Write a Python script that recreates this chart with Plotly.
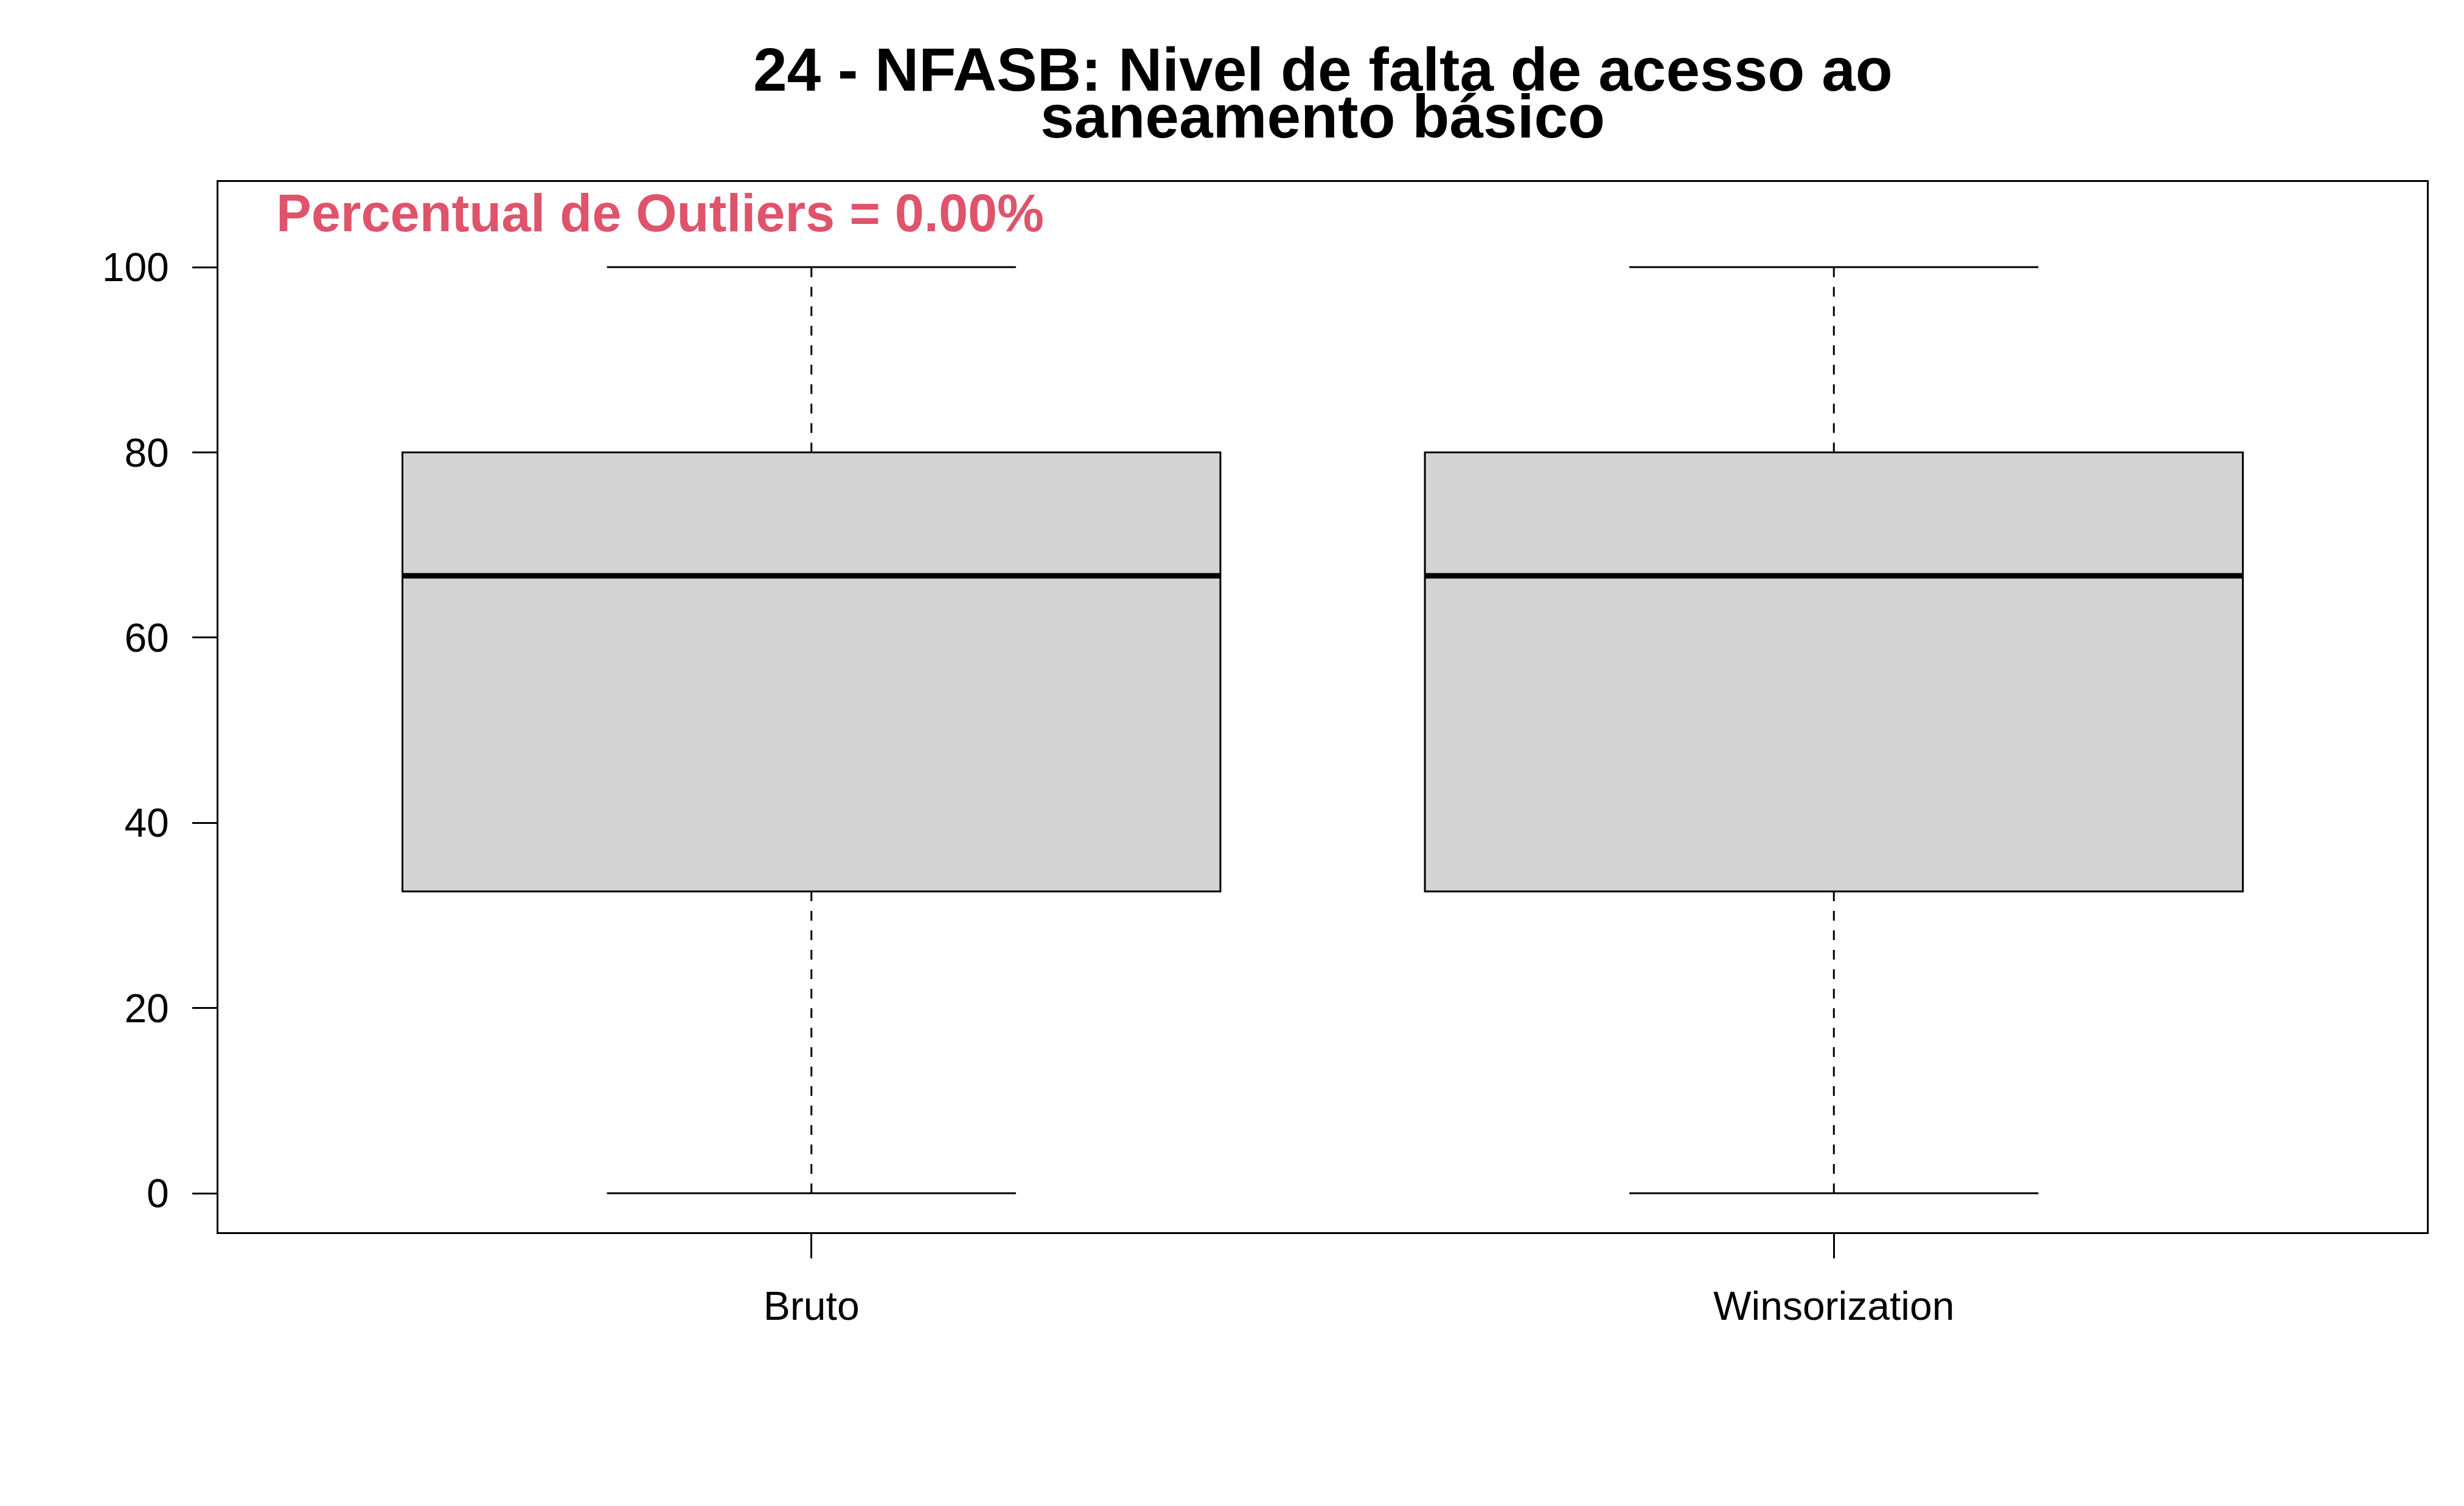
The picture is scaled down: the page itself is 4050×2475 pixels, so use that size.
import plotly.graph_objects as go

categories = ["Bruto", "Winsorization"]
positions = [1, 2]
q1 = [32.6, 32.6]
median = [66.67, 66.67]
q3 = [80.0, 80.0]
lower_whisker = [0.0, 0.0]
upper_whisker = [100.0, 100.0]
y_ticks = [0, 20, 40, 60, 80, 100]
title_lines = ["24 - NFASB: Nivel de falta de acesso ao", "saneamento básico"]
outlier_text = "Percentual de Outliers = 0.00%"

FONT = "Liberation Sans, Arial, sans-serif"
W, H = 4050, 2475
L, R, T, B = 359, 61, 299, 450
box_half = 0.4
staple_half = 0.2

fig = go.Figure()

fig.add_trace(go.Box(
    x=positions, q1=q1, median=median, q3=q3,
    lowerfence=q1, upperfence=q3,
    width=2 * box_half, fillcolor="#D3D3D3",
    line=dict(color="black", width=3),
    whiskerwidth=0, boxpoints=False, hoverinfo="skip", showlegend=False,
))

# medians
mx, my = [], []
for p, m in zip(positions, median):
    mx += [p - box_half, p + box_half, None]
    my += [m, m, None]
fig.add_trace(go.Scatter(x=mx, y=my, mode="lines", line=dict(color="black", width=9),
                         hoverinfo="skip", showlegend=False))

# dashed whiskers
wx, wy = [], []
for p, a, b, c, d in zip(positions, lower_whisker, q1, q3, upper_whisker):
    wx += [p, p, None, p, p, None]
    wy += [a, b, None, c, d, None]
fig.add_trace(go.Scatter(x=wx, y=wy, mode="lines",
                         line=dict(color="black", width=3, dash="16px,16px"),
                         hoverinfo="skip", showlegend=False))

# staples
sx, sy = [], []
for p, a, d in zip(positions, lower_whisker, upper_whisker):
    sx += [p - staple_half, p + staple_half, None, p - staple_half, p + staple_half, None]
    sy += [a, a, None, d, d, None]
fig.add_trace(go.Scatter(x=sx, y=sy, mode="lines", line=dict(color="black", width=3),
                         hoverinfo="skip", showlegend=False))

ph = H - T - B
pw = W - L - R

def py(px_y):
    return 1 - (px_y - T) / ph

def pxx(px_x):
    return (px_x - L) / pw

annotations = [
    dict(text="<b>%s</b>" % title_lines[0], x=0.5, y=py(150 + 22), xref="paper", yref="paper",
         xanchor="center", yanchor="bottom", showarrow=False,
         font=dict(family=FONT, size=100, color="black")),
    dict(text="<b>%s</b>" % title_lines[1], x=0.5, y=py(227 + 22), xref="paper", yref="paper",
         xanchor="center", yanchor="bottom", showarrow=False,
         font=dict(family=FONT, size=100, color="black")),
    dict(text="<b>%s</b>" % outlier_text, x=pxx(452), y=py(380 + 20), xref="paper", yref="paper",
         xanchor="left", yanchor="bottom", showarrow=False,
         font=dict(family=FONT, size=86.5, color="#DF536B")),
]

fig.update_layout(
    width=W, height=H,
    margin=dict(l=L, r=R, t=T, b=B),
    paper_bgcolor="white", plot_bgcolor="white",
    font=dict(family=FONT, size=66, color="black"),
    annotations=annotations,
    xaxis=dict(range=[0.42, 2.58], tickvals=positions, ticktext=categories,
               showgrid=False, zeroline=False, showline=True, mirror=True,
               linecolor="black", linewidth=3, ticks="outside", ticklen=40,
               tickwidth=3, tickcolor="black", ticklabelstandoff=22,
               tickfont=dict(family=FONT, size=66, color="black")),
    yaxis=dict(range=[-4.2, 109.2], tickvals=y_ticks, ticktext=[str(v) for v in y_ticks],
               showgrid=False, zeroline=False, showline=True, mirror=True,
               linecolor="black", linewidth=3, ticks="outside", ticklen=40,
               tickwidth=3, tickcolor="black", ticklabelstandoff=25,
               tickfont=dict(family=FONT, size=66, color="black")),
)

fig.write_html("out.html")
